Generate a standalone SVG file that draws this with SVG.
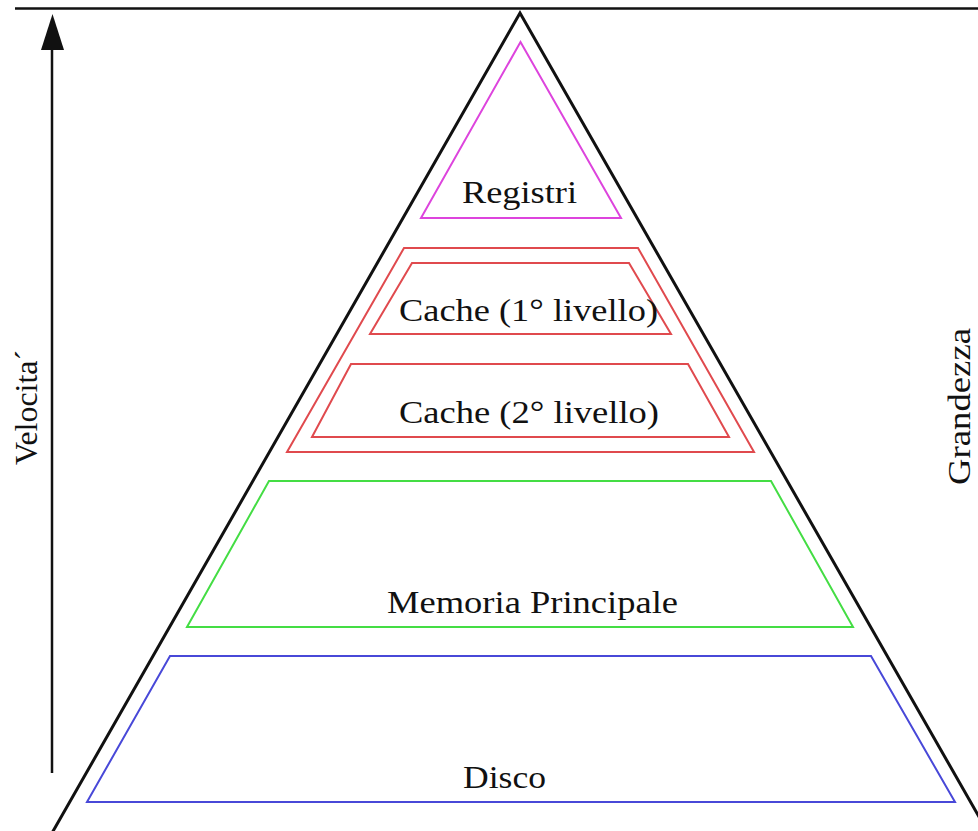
<svg xmlns="http://www.w3.org/2000/svg" width="978" height="831" viewBox="0 0 978 831">
<style>
text{font-family:'Liberation Serif',serif;font-size:32px;fill:#111;}
.frame{fill:none;stroke:#111;stroke-width:3;}
.lvl{fill:none;stroke-width:2;stroke-linejoin:miter;}
</style>
<rect width="978" height="831" fill="#fff"/>
<line x1="15" y1="8.5" x2="978" y2="8.5" stroke="#111" stroke-width="2.5"/>
<g id="pyramid">
<polyline class="frame" points="52,833 520,13 990,836"/>
</g>
<g id="connectors">
<line x1="52" y1="773" x2="52" y2="40" stroke="#111" stroke-width="2.5"/>
<path d="M41,50 L52.5,14 L64,50 Z" fill="#111"/>
</g>
<g id="velocita">
<text font-family="Liberation Serif" transform="translate(37,407.5) rotate(-90)" text-anchor="middle" textLength="115" lengthAdjust="spacingAndGlyphs">Velocita´</text>
</g>
<g id="grandezza">
<text font-family="Liberation Serif" transform="translate(970,406.5) rotate(-90)" text-anchor="middle" textLength="157" lengthAdjust="spacingAndGlyphs">Grandezza</text>
</g>
<g id="registri">
<polygon class="lvl" stroke="#dd44dd" points="520.5,42 621,218 421,218"/>
<text font-family="Liberation Serif" x="519.5" y="203" text-anchor="middle" textLength="115" lengthAdjust="spacingAndGlyphs">Registri</text>
</g>
<g id="cache">
<polygon class="lvl" stroke="#e04a4e" points="404,248 638,248 754,452 287,452"/>
<g id="cache1">
<polygon class="lvl" stroke="#e04a4e" points="412,263 629,263 671,334 370,334"/>
<text font-family="Liberation Serif" x="528.5" y="321" text-anchor="middle" textLength="259" lengthAdjust="spacingAndGlyphs">Cache (1° livello)</text>
</g>
<g id="cache2">
<polygon class="lvl" stroke="#e04a4e" points="351,364 688,364 729,437 312,437"/>
<text font-family="Liberation Serif" x="529" y="423" text-anchor="middle" textLength="260" lengthAdjust="spacingAndGlyphs">Cache (2° livello)</text>
</g>
</g>
<g id="memoria">
<polygon class="lvl" stroke="#44dd44" points="269,481 771,481 853,627 187,627"/>
<text font-family="Liberation Serif" x="532.5" y="613" text-anchor="middle" textLength="291" lengthAdjust="spacingAndGlyphs">Memoria Principale</text>
</g>
<g id="disco">
<polygon class="lvl" stroke="#4848d8" points="170,656 871,656 955,802 87,802"/>
<text font-family="Liberation Serif" x="504.5" y="788" text-anchor="middle" textLength="83" lengthAdjust="spacingAndGlyphs">Disco</text>
</g>
</svg>
